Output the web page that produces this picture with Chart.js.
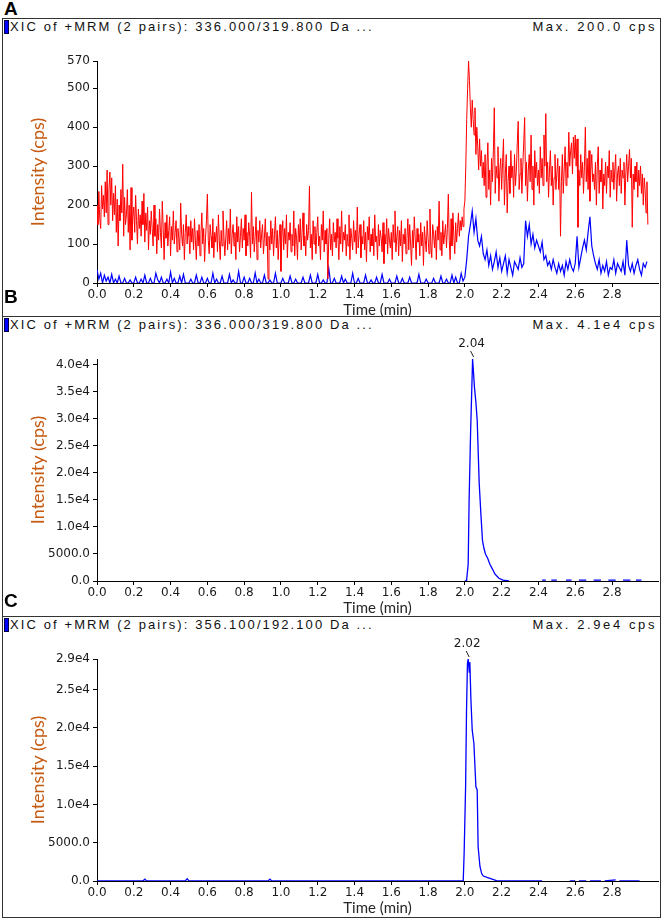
<!DOCTYPE html>
<html lang="en">
<head>
<meta charset="UTF-8">
<title>XIC chromatograms</title>
<script src="https://cdn.jsdelivr.net/npm/chart.js@4"></script>
<style>
  body { margin: 0; background: #fff; width: 663px; height: 920px; position: relative; overflow: hidden; }
  .box { position: absolute; left: 2px; width: 659px; box-sizing: border-box; border: 1px solid #333; }
  .hdr { position: absolute; left: 10px; font: 13px 'Liberation Sans', Arial, sans-serif; letter-spacing: 2.1px; color: #111; white-space: nowrap; }
  .mark { position: absolute; left: 4px; width: 3px; height: 12px; background: #0000ff; border: 1px solid #000044; }
  .max { position: absolute; right: 6px; font: 13px 'Liberation Sans', Arial, sans-serif; letter-spacing: 2.6px; color: #111; white-space: nowrap; }
  .letter { position: absolute; left: 3px; font: bold 19px 'Liberation Sans', Arial, sans-serif; color: #000; background: #fff; line-height: 18px; padding: 0 1px; z-index: 3; }
  canvas { position: absolute; left: 0; z-index: 2; }
</style>
</head>
<body>
<div class="box" style="top:18px;height:299px"></div>
<div class="box" style="top:316px;height:301px"></div>
<div class="box" style="top:616px;height:302px"></div>

<div class="letter" style="top:0px">A</div>
<div class="letter" style="top:288px">B</div>
<div class="letter" style="top:592px">C</div>

<div class="mark" style="top:20px"></div>
<div class="hdr" style="top:19px">XIC of +MRM (2 pairs): 336.000/319.800 Da ...</div>
<div class="max" style="top:19px">Max. 200.0 cps</div>

<div class="mark" style="top:318px"></div>
<div class="hdr" style="top:317px">XIC of +MRM (2 pairs): 336.000/319.800 Da ...</div>
<div class="max" style="top:317px">Max. 4.1e4 cps</div>

<div class="mark" style="top:618px"></div>
<div class="hdr" style="top:617px">XIC of +MRM (2 pairs): 356.100/192.100 Da ...</div>
<div class="max" style="top:617px">Max. 2.9e4 cps</div>

<canvas id="chartA" width="663" height="280" style="top:38px"></canvas>
<canvas id="chartB" width="663" height="280" style="top:336px"></canvas>
<canvas id="chartC" width="663" height="280" style="top:636px"></canvas>

<script>
// time axis (min)
const timeTicks = [0.0, 0.2, 0.4, 0.6, 0.8, 1.0, 1.2, 1.4, 1.6, 1.8, 2.0, 2.2, 2.4, 2.6, 2.8];
const timeTickLabels = ['0.0', '0.2', '0.4', '0.6', '0.8', '1.0', '1.2', '1.4', '1.6', '1.8', '2.0', '2.2', '2.4', '2.6', '2.8'];
const timeMax = 3.05;

// panel A, red trace: one reading every 0.005 min from 0.000 min
const stepRedA = 0.005;
const redA = [
  200, 150, 235, 165, 140, 250, 190, 225, 170, 260,
  180, 290, 150, 240, 285, 200, 270, 160, 230, 175,
  250, 130, 215, 95, 200, 160, 240, 180, 305, 120,
  220, 150, 175, 240, 130, 200, 85, 245, 110, 170,
  195, 130, 225, 160, 100, 190, 140, 175, 120, 210,
  150, 230, 105, 180, 135, 195, 85, 160, 125, 185,
  140, 95, 200, 120, 165, 75, 150, 110, 190, 130,
  90, 210, 140, 60, 155, 115, 175, 95, 135, 170,
  70, 145, 110, 185, 100, 130, 160, 80, 140, 115,
  85, 205, 125, 95, 150, 60, 130, 175, 100, 145,
  120, 75, 160, 105, 140, 85, 165, 110, 60, 135,
  95, 150, 70, 125, 180, 100, 140, 55, 115, 160,
  228, 110, 75, 150, 120, 90, 165, 65, 130, 105,
  145, 80, 175, 110, 60, 135, 95, 185, 120, 70,
  115, 160, 85, 140, 100, 190, 75, 125, 150, 95,
  130, 60, 170, 105, 145, 80, 120, 165, 90, 140,
  110, 175, 70, 130, 95, 155, 120, 65, 233, 100,
  145, 80, 120, 170, 60, 135, 105, 160, 90, 125,
  150, 75, 115, 165, 95, 130, 10, 120, 85, 160,
  100, 140, 70, 125, 170, 90, 135, 60, 115, 150,
  30, 120, 160, 85, 140, 100, 175, 65, 130, 110,
  155, 80, 125, 95, 185, 70, 140, 115, 60, 150,
  105, 165, 85, 130, 180, 95, 120, 70, 150, 110,
  135, 249, 90, 125, 60, 160, 100, 145, 75, 130,
  170, 95, 120, 60, 150, 110, 185, 80, 135, 100,
  140, 10, 115, 165, 85, 125, 70, 155, 105, 130,
  90, 165, 115, 60, 145, 100, 185, 80, 130, 110,
  150, 70, 125, 95, 175, 60, 140, 115, 85, 160,
  105, 135, 75, 195, 90, 125, 150, 65, 120, 100,
  160, 85, 130, 55, 145, 110, 170, 80, 125, 95,
  140, 70, 175, 105, 120, 60, 150, 95, 135, 115,
  80, 155, 50, 125, 100, 165, 75, 140, 110, 90,
  130, 60, 150, 105, 185, 80, 120, 145, 70, 135,
  95, 160, 55, 125, 100, 140, 75, 115, 165, 85,
  150, 100, 45, 135, 90, 170, 115, 60, 140, 105,
  125, 70, 155, 95, 130, 45, 145, 110, 80, 160,
  115, 75, 190, 100, 65, 150, 125, 90, 135, 60,
  145, 110, 210, 85, 130, 70, 160, 100, 125, 150,
  90, 140, 228, 110, 60, 165, 95, 180, 120, 75,
  155, 105, 140, 180, 120, 160, 135, 170, 145, 190,
  210, 300, 420, 500, 570, 520, 450, 400, 470, 420,
  380, 450, 330, 400, 350, 290, 370, 300, 340, 270,
  310, 250, 330, 220, 300, 360, 240, 290, 200, 320,
  260, 340, 450, 230, 300, 270, 350, 210, 290, 320,
  240, 310, 370, 200, 280, 330, 180, 260, 300, 230,
  340, 270, 300, 220, 330, 250, 290, 360, 415, 240,
  280, 320, 230, 300, 360, 425, 250, 310, 210, 290,
  330, 260, 380, 240, 300, 200, 340, 270, 310, 250,
  290, 230, 350, 270, 320, 250, 380, 300, 435, 260,
  310, 220, 290, 340, 250, 300, 200, 270, 330, 240,
  280, 320, 240, 300, 120, 260, 330, 230, 290, 350,
  250, 310, 270, 387, 300, 340, 360, 280, 375, 320,
  380, 300, 370, 143, 290, 250, 330, 270, 310, 230,
  300, 400, 260, 320, 240, 340, 210, 290, 330, 260,
  280, 240, 310, 200, 300, 350, 230, 290, 260, 320,
  190, 280, 250, 310, 230, 300, 270, 340, 220, 290,
  260, 310, 240, 290, 330, 210, 280, 300, 250, 320,
  230, 290, 270, 310, 200, 280, 330, 260, 300, 343,
  270, 320, 143, 280, 240, 300, 260, 310, 220, 290,
  250, 300, 230, 280, 200, 270, 240, 180, 260, 150
];
// panel A, blue trace: one reading every 0.01 min from 0.00 min
const stepBlueA = 0.01;
const blueA = [
  35, 10, 25, 0, 20, 5, 15, 0, 22, 0,
  10, 0, 18, 0, 0, 12, 0, 0, 8, 0,
  0, 15, 0, 0, 10, 0, 20, 0, 0, 12,
  0, 0, 25, 8, 0, 15, 0, 0, 10, 0,
  28, 0, 12, 0, 0, 18, 0, 22, 0, 0,
  0, 10, 0, 0, 20, 0, 0, 15, 0, 0,
  12, 0, 0, 25, 0, 10, 0, 0, 18, 0,
  0, 0, 22, 0, 8, 0, 0, 30, 0, 0,
  15, 0, 0, 12, 0, 0, 26, 0, 10, 0,
  0, 20, 0, 0, 8, 0, 0, 25, 0, 0,
  0, 12, 0, 0, 0, 18, 0, 0, 10, 0,
  0, 0, 15, 0, 0, 0, 20, 0, 0, 0,
  22, 0, 0, 8, 0, 0, 38, 0, 0, 12,
  0, 0, 0, 18, 0, 10, 0, 0, 0, 25,
  0, 0, 12, 0, 0, 0, 20, 0, 0, 8,
  0, 0, 15, 0, 0, 22, 0, 0, 0, 10,
  0, 0, 0, 18, 0, 0, 12, 0, 0, 0,
  15, 0, 0, 0, 0, 22, 0, 0, 0, 10,
  0, 0, 0, 12, 0, 0, 0, 18, 0, 0,
  10, 0, 0, 20, 0, 15, 0, 0, 25, 5,
  15, 60, 120, 150, 185, 130, 165, 110, 95, 120,
  75, 60, 85, 45, 70, 35, 55, 80, 40, 65,
  30, 50, 70, 25, 60, 40, 20, 55, 45, 35,
  65, 40, 50, 160, 120, 150, 100, 125, 90, 110,
  95, 80, 105, 60, 70, 45, 55, 35, 60, 40,
  25, 50, 30, 45, 20, 55, 35, 60, 40, 30,
  50, 120, 40, 65, 90, 110, 85, 130, 170, 95,
  70, 50, 35, 60, 25, 45, 30, 55, 20, 40,
  35, 60, 25, 50, 40, 30, 55, 20, 110, 45,
  30, 50, 25, 45, 60, 35, 20, 50, 40, 55
];
const yTicksA = [0, 100, 200, 300, 400, 500, 570];
const yTickLabelsA = ['0', '100', '200', '300', '400', '500', '570'];

// panel B (null = no trace drawn)
const timesB = [2.000, 2.009, 2.018, 2.023, 2.031, 2.042, 2.047, 2.052, 2.060, 2.067, 2.078, 2.087, 2.096, 2.104, 2.112, 2.124, 2.136, 2.150, 2.163, 2.185, 2.207, 2.240, 2.245,
  2.42, 2.44, 2.445, 2.47, 2.50, 2.505, 2.55, 2.58, 2.585, 2.62, 2.66, 2.665, 2.70, 2.74, 2.745, 2.78, 2.82, 2.825, 2.86, 2.90, 2.905, 2.93, 2.96];
const intensityB = [0, 0, 3100, 14800, 27200, 41000, 38500, 35800, 33000, 29700, 18000, 12400, 7400, 6000, 5000, 4200, 3100, 2200, 1300, 500, 150, 0, null,
  150, 150, null, 150, 150, null, 150, 150, null, 150, 150, null, 150, 150, null, 150, 150, null, 150, 150, null, 150, 150];
const yTicksB = [0, 5000, 10000, 15000, 20000, 25000, 30000, 35000, 40000];
const yTickLabelsB = ['0.0', '5000.0', '1.0e4', '1.5e4', '2.0e4', '2.5e4', '3.0e4', '3.5e4', '4.0e4'];
const peakTimeB = 2.042, peakValueB = 41000, peakLabelB = '2.04';

// panel C
const timesC = [0.0, 0.25, 0.26, 0.27, 0.48, 0.49, 0.50, 0.93, 0.94, 0.95, 1.991, 1.996, 2.004, 2.009, 2.014, 2.018, 2.024, 2.027, 2.033, 2.040, 2.049, 2.060, 2.067, 2.072, 2.082, 2.091, 2.100, 2.136, 2.172, 2.20, 2.42, 2.425,
  2.57, 2.60, 2.605, 2.62, 2.66, 2.665, 2.68, 2.74, 2.745, 2.76, 2.82, 2.825, 2.84, 2.95];
const intensityC = [0, 0, 250, 0, 0, 300, 0, 0, 250, 0, 0, 3600, 12300, 22300, 28400, 29000, 27300, 28600, 23600, 19700, 18000, 12300, 11900, 4500, 1900, 1000, 650, 350, 50, 0, 0, null,
  0, 0, null, 0, 0, null, 0, 0, null, 0, 150, null, 0, 0];
const yTicksC = [0, 5000, 10000, 15000, 20000, 25000, 29000];
const yTickLabelsC = ['0.0', '5000.0', '1.0e4', '1.5e4', '2.0e4', '2.5e4', '2.9e4'];
const peakTimeC = 2.018, peakValueC = 29000, peakLabelC = '2.02';

const tickFont = { family: "'DejaVu Sans', sans-serif", size: 12 };
const tickColor = '#1a1a1a';

// retention-time label above the apex
const peakLabelPlugin = {
  id: 'peakLabel',
  afterDatasetsDraw(chart, args, opts) {
    if (!opts.text) return;
    const px = chart.scales.x.getPixelForValue(opts.time);
    const py = chart.scales.y.getPixelForValue(opts.value);
    const ctx = chart.ctx;
    ctx.save();
    ctx.strokeStyle = '#222';
    ctx.lineWidth = 1;
    ctx.beginPath();
    ctx.moveTo(px - 2, py - 8);
    ctx.lineTo(px + 1, py - 2);
    ctx.stroke();
    ctx.fillStyle = tickColor;
    ctx.font = "12px 'DejaVu Sans', sans-serif";
    ctx.textAlign = 'center';
    ctx.textBaseline = 'middle';
    ctx.fillText(opts.text, px - 1, py - 15);
    ctx.restore();
  }
};

function toPoints(xs, ys) {
  return xs.map((x, i) => ({ x: x, y: ys[i] }));
}

function makeChart(id, datasets, yMax, yTicks, yLabels, peak) {
  return new Chart(document.getElementById(id), {
    type: 'line',
    data: { datasets },
    plugins: [peakLabelPlugin],
    options: {
      responsive: false,
      animation: false,
      spanGaps: false,
      layout: { padding: { left: 0, right: 5, top: 23, bottom: 0 } },
      elements: { point: { radius: 0 }, line: { tension: 0 } },
      plugins: {
        legend: { display: false },
        tooltip: { enabled: false },
        peakLabel: peak || {}
      },
      scales: {
        x: {
          type: 'linear',
          min: 0,
          max: timeMax,
          afterBuildTicks: s => { s.ticks = timeTicks.map(v => ({ value: v })); },
          afterFit: s => { s.height = 35; },
          ticks: {
            autoSkip: false, maxRotation: 0, padding: 1,
            font: tickFont, color: tickColor,
            callback: (v, i) => timeTickLabels[i]
          },
          grid: { drawOnChartArea: false, drawTicks: true, tickLength: 4, color: '#000' },
          border: { display: true, color: '#000', width: 1 },
          title: {
            display: true, text: 'Time (min)', color: '#262626',
            font: { family: 'Lato, sans-serif', size: 15, lineHeight: 1.0 },
            padding: { top: 0, bottom: 0 }
          }
        },
        y: {
          type: 'linear',
          min: 0,
          max: yMax,
          afterBuildTicks: s => { s.ticks = yTicks.map(v => ({ value: v })); },
          afterFit: s => { s.width = 97; },
          ticks: {
            padding: 3, font: tickFont, color: tickColor,
            callback: (v, i) => yLabels[i]
          },
          grid: { drawOnChartArea: false, drawTicks: true, tickLength: 4, color: '#000' },
          border: { display: true, color: '#000', width: 1 },
          title: {
            display: true, text: 'Intensity (cps)', color: '#c55a11',
            font: { family: 'Lato, sans-serif', size: 18, lineHeight: 1.2 },
            padding: { top: 27, bottom: 0 }
          }
        }
      }
    }
  });
}

const timesRedA = redA.map((_, i) => i * stepRedA);
const timesBlueA = blueA.map((_, i) => i * stepBlueA);

makeChart('chartA', [
  { data: toPoints(timesRedA, redA), borderColor: '#ff0000', borderWidth: 1 },
  { data: toPoints(timesBlueA, blueA), borderColor: '#0000ff', borderWidth: 1.2 }
], 570, yTicksA, yTickLabelsA, null);

makeChart('chartB', [
  { data: toPoints(timesB, intensityB), borderColor: '#0000ff', borderWidth: 1.3 }
], 41000, yTicksB, yTickLabelsB, { time: peakTimeB, value: peakValueB, text: peakLabelB });

makeChart('chartC', [
  { data: toPoints(timesC, intensityC), borderColor: '#0000ff', borderWidth: 1.3 }
], 29000, yTicksC, yTickLabelsC, { time: peakTimeC, value: peakValueC, text: peakLabelC });
</script>
</body>
</html>
